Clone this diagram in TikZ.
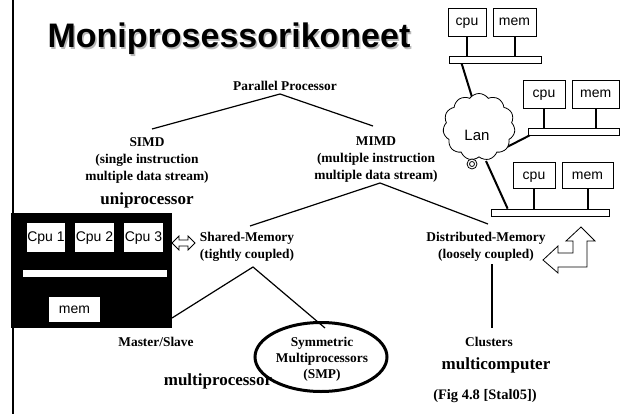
\documentclass[tikz,border=0pt]{standalone}
\usepackage{fontspec}
\setmainfont{Liberation Serif}
\setsansfont{Liberation Sans}
\usetikzlibrary{shapes.symbols,shapes.geometric}
\begin{document}
\begin{tikzpicture}[x=1pt,y=-1pt,
  lbl/.style={font=\fontsize{13.4}{17}\selectfont\bfseries, inner sep=0, align=center},
  big/.style={font=\fontsize{17}{20}\selectfont\bfseries, inner sep=0, text height=11pt, text depth=4pt},
  sbox/.style={draw, fill=white, inner sep=0, font=\sffamily\fontsize{14}{16}\selectfont, line width=0.8, text height=10pt, text depth=2pt},
  wbox/.style={fill=white, inner sep=0, font=\sffamily\fontsize{14}{16}\selectfont, text height=10pt, text depth=2pt},
  busbar/.style={draw, fill=white, inner sep=0, line width=0.8},
  tree/.style={line width=1.2},
  net/.style={line width=2},
  hollow/.style={draw, fill=white, line width=0.8, line join=miter}
]
\useasboundingbox (0,0) rectangle (620,414);
\fill[white] (0,0) rectangle (620,414);
\draw[line width=2] (13,0) -- (13,414);

% title
\node[anchor=base, text=gray!55, font=\sffamily\bfseries\fontsize{34}{40}\selectfont, inner sep=0] at (230.5,49.5) {Moniprosessorikoneet};
\node[anchor=base, font=\sffamily\bfseries\fontsize{34}{40}\selectfont, inner sep=0] (title) at (229,48) {Moniprosessorikoneet};

% tree labels
\node[lbl] (pp) at (285,86) {Parallel Processor};
\node[lbl] (simd) at (147,160) {SIMD\\(single instruction\\multiple data stream)};
\node[lbl] (mimd) at (376,160) {MIMD\\(multiple instruction\\multiple data stream)};
\node[big] (uni) at (147,201) {uniprocessor};
\node[lbl] (shm) at (247,247) {Shared-Memory\\(tightly coupled)};
\node[lbl] (dm) at (486,247) {Distributed-Memory\\(loosely coupled)};
\node[lbl] (ms) at (156,342) {Master/Slave};
\node[draw, ellipse, line width=3, minimum width=132, minimum height=69, inner sep=0] (smpe) at (321,357) {};
\node[lbl, font=\fontsize{13.4}{16}\selectfont\bfseries] (smp) at (322,359) {Symmetric\\Multiprocessors\\(SMP)};
\node[big] (mp) at (218,382) {multiprocessor};
\node[lbl] (cl) at (489,342) {Clusters};
\node[big] (mc) at (496,366) {multicomputer};
\node[lbl, font=\fontsize{14.5}{17}\selectfont\bfseries] (fig) at (485,396) {(Fig 4.8 [Stal05])};

% tree connectors
\coordinate (ppb) at (280,94);
\coordinate (simdt) at (152,129);
\coordinate (mimdt) at (373,126);
\coordinate (mimdb) at (380,183);
\coordinate (shmt) at (250,226);
\coordinate (dmt) at (488,224);
\coordinate (shmb) at (253,267);
\coordinate (mst) at (172,318);
\coordinate (smpt) at (325,328);
\coordinate (dmb) at (492,264);
\coordinate (clt) at (492,328);
\draw[tree] (simdt) -- (ppb) -- (mimdt);
\draw[tree] (shmt) -- (mimdb) -- (dmt);
\draw[tree] (mst) -- (shmb) -- (smpt);
\draw[tree] (dmb) -- (clt);

% uniprocessor box
\node[fill=black, minimum width=161, minimum height=115, inner sep=0] (ubox) at (91.5,270.5) {};
\node[wbox, minimum width=38, minimum height=29] (cpu1) at (46,237.5) {Cpu 1};
\node[wbox, minimum width=39, minimum height=29] (cpu2) at (94.5,237.5) {Cpu 2};
\node[wbox, minimum width=39, minimum height=29] (cpu3) at (143.5,237.5) {Cpu 3};
\node[wbox, minimum width=144, minimum height=7, text height=0pt, text depth=0pt] (ubar) at (95,273.5) {};
\node[wbox, minimum width=51, minimum height=25] (umem) at (74.5,309.5) {mem};

% hollow double arrow
\draw[hollow] (172,243) -- (179,236) -- (179,240) -- (188,240) -- (188,236) -- (195,243)
  -- (188,250) -- (188,246) -- (179,246) -- (179,250) -- cycle;

% hollow bent arrow
\draw[hollow] (543,260) -- (558,246) -- (558,253) -- (573,253) -- (573,241) -- (566,241)
  -- (581,227) -- (595,241) -- (587,241) -- (587,267) -- (558,267) -- (558,273) -- cycle;

% network
\node[sbox, minimum width=38, minimum height=28] (c1) at (467,22) {cpu};
\node[sbox, minimum width=43, minimum height=28] (m1) at (514.5,22) {mem};
\node[busbar, minimum width=92, minimum height=7] (b1) at (495,59.5) {};
\draw[net] (c1.south) -- (c1.south |- b1.north);
\draw[net] (m1.south) -- (m1.south |- b1.north);

\node[sbox, minimum width=42, minimum height=28] (c2) at (544,94) {cpu};
\node[sbox, minimum width=47, minimum height=28] (m2) at (595.75,94) {mem};
\node[busbar, minimum width=91.5, minimum height=7] (b2) at (573.75,131.5) {};
\draw[net] (c2.south) -- (c2.south |- b2.north);
\draw[net] (m2.south) -- (m2.south |- b2.north);

\node[sbox, minimum width=42, minimum height=26] (c3) at (534,175) {cpu};
\node[sbox, minimum width=51, minimum height=26] (m3) at (587.5,175) {mem};
\node[busbar, minimum width=118, minimum height=7] (b3) at (550,212.5) {};
\draw[net] (c3.south) -- (c3.south |- b3.north);
\draw[net] (m3.south) -- (m3.south |- b3.north);

\coordinate (l1) at (472,97);
\coordinate (l2) at (507,147);
\coordinate (l3) at (486,161);
\draw[net] ([xshift=13pt]b1.south west) -- (l1);
\draw[net] (l2) -- ([xshift=2pt]b2.south west);
\draw[net] (l3) -- ([xshift=17pt]b3.north west);

\node[cloud, draw, fill=white, cloud puffs=11, cloud puff arc=110, aspect=1.07,
  minimum width=72, minimum height=67, inner sep=0, line width=0.8] (lan) at (479,127) {};
\node[inner sep=0, font=\sffamily\fontsize{15}{17}\selectfont] (lantext) at (477,135) {Lan};
\draw[fill=white, line width=0.8] (472,164) circle (5);
\draw[line width=0.8] (472,164) circle (2.5);
\end{tikzpicture}
\end{document}
